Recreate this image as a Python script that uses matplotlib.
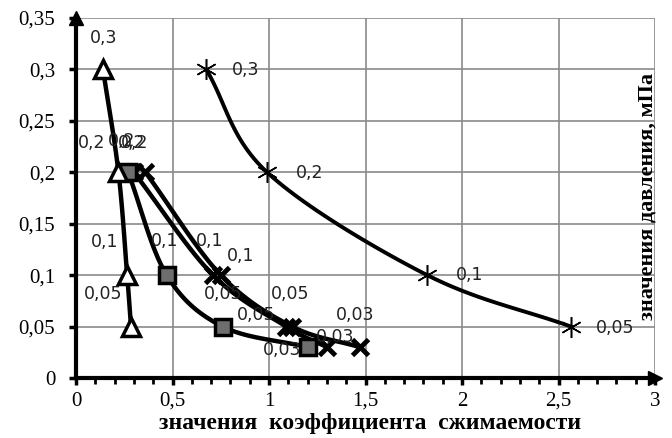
import numpy as np
import matplotlib
matplotlib.use("Agg")
import matplotlib.pyplot as plt

# ---- data ----
pressure = [0.3, 0.2, 0.1, 0.05]
pressure_b = [0.2, 0.1, 0.05, 0.03]

tri_x = [0.14, 0.22, 0.265, 0.285]
tri_y = pressure
tri_lab = ["0,3", "0,2", "0,1", "0,05"]

sq_x = [0.27, 0.47, 0.76, 1.20]
sq_y = pressure_b
sq_lab = ["0,2", "0,1", "0,05", "0,03"]

xc_x = [0.36, 0.75, 1.12, 1.47]
xc_y = pressure_b
xc_lab = ["0,2", "0,1", "0,05", "0,03"]

xd_x = [0.30, 0.71, 1.09, 1.30]
xd_y = pressure_b
xd_lab = ["0,2", "0,1", "0,05", "0,03"]

st_x = [0.675, 0.99, 1.82, 2.565]
st_y = pressure
st_lab = ["0,3", "0,2", "0,1", "0,05"]

xticks = [0, 0.5, 1, 1.5, 2, 2.5, 3]
xticklabels = ["0", "0,5", "1", "1,5", "2", "2,5", "3"]
yticks = [0, 0.05, 0.1, 0.15, 0.2, 0.25, 0.3, 0.35]
yticklabels = ["0", "0,05", "0,1", "0,15", "0,2", "0,25", "0,3", "0,35"]


def smooth(x, y, n=30):
    """Catmull-Rom curve through the given points (for drawing only)."""
    p = np.column_stack([x, y]).astype(float)
    p = np.vstack([2 * p[0] - p[1], p, 2 * p[-1] - p[-2]])
    out = []
    for i in range(1, len(p) - 2):
        p0, p1, p2, p3 = p[i - 1], p[i], p[i + 1], p[i + 2]
        t = np.linspace(0, 1, n)[:, None]
        seg = 0.5 * ((2 * p1) + (-p0 + p2) * t + (2 * p0 - 5 * p1 + 4 * p2 - p3) * t ** 2
                     + (-p0 + 3 * p1 - 3 * p2 + p3) * t ** 3)
        out.append(seg)
    out = np.vstack(out)
    return out[:, 0], out[:, 1]


fig = plt.figure(figsize=(6.72, 4.38), dpi=100)
ax = fig.add_axes([76 / 672, 1 - 378 / 438, (655 - 76) / 672, (378 - 18) / 438])
ax.set_xlim(0, 3)
ax.set_ylim(0, 0.35)

ax.grid(True, color="#8a8a8a", lw=1.2)
ax.set_axisbelow(True)
for s in ["top", "right"]:
    ax.spines[s].set_visible(False)
for s in ["left", "bottom"]:
    ax.spines[s].set_linewidth(3)
    ax.spines[s].set_color("black")

# arrows on axes
ax.plot([1.0], [0], marker=">", ms=10, color="black", transform=ax.transAxes, clip_on=False)
ax.plot([0], [1.0], marker="^", ms=10, color="black", transform=ax.transAxes, clip_on=False)

ax.set_xticks(xticks)
ax.set_xticklabels(xticklabels, fontfamily="Liberation Serif", fontsize=15)
ax.set_yticks(yticks)
ax.set_yticklabels(yticklabels, fontfamily="Liberation Serif", fontsize=15)
ax.set_xticks(np.arange(0, 3.01, 0.1), minor=True)
ax.tick_params(axis="both", which="major", direction="out", length=5, width=2.5, colors="black")
ax.tick_params(axis="y", which="major", pad=10)
ax.tick_params(axis="x", which="major", pad=5)
ax.tick_params(axis="x", which="minor", direction="out", length=4, width=2)

lw = 3.2
# star series
sx, sy = smooth(st_x, st_y)
ax.plot(sx, sy, color="black", lw=2.8, zorder=3)
ax.plot(st_x, st_y, ls="none", marker=(6, 2, 0), ms=15, mew=1.1, color="black", zorder=4)

# X series D and C
for xs, ys in [(xd_x, xd_y), (xc_x, xc_y)]:
    cx, cy = smooth(xs, ys)
    ax.plot(cx, cy, color="black", lw=lw, zorder=3)
    ax.plot(xs, ys, ls="none", marker="x", ms=11, mew=3.5, color="black", zorder=4)

# squares
cx, cy = smooth(sq_x, sq_y)
ax.plot(cx, cy, color="black", lw=lw, zorder=3)
ax.plot(sq_x, sq_y, ls="none", marker="s", ms=12, mew=2.5, mfc="#6e6e6e", mec="black", zorder=5)

# triangles
cx, cy = smooth(tri_x, tri_y)
ax.plot(cx, cy, color="black", lw=lw, zorder=3)
ax.plot(tri_x, tri_y, ls="none", marker="^", ms=13, mew=2.5, mfc="white", mec="black", zorder=5)

# data labels (offsets in pixels, style only)
lab_font = dict(fontfamily="DejaVu Sans", fontsize=12.5, color="#222222", ha="center", va="center", zorder=6)


def labels(xs, ys, labs, offs):
    for x, y, t, (dx, dy) in zip(xs, ys, labs, offs):
        ax.annotate(t, (x, y), xytext=(dx, dy), textcoords="offset pixels", **lab_font)


labels(tri_x, tri_y, tri_lab, [(1, 31), (-27, 29), (-23, 33), (-28, 33)])
labels(sq_x, sq_y, sq_lab, [(-6, 31), (-2, 34), (0, 33), (-25, -3)])
labels(xc_x, xc_y, xc_lab, [(-11, 29), (20, 19), (-2, 33), (-5, 32)])
labels(xd_x, xd_y, xd_lab, [(-2, 29), (-3, 34), (-30, 12), (8, 10)])
labels(st_x, st_y, st_lab, [(39, -1), (43, -1), (42, 0), (44, -1)])

fig.text(370 / 672, 1 - 424 / 438, "значения  коэффициента  сжимаемости",
         fontfamily="Liberation Serif", fontweight="bold", fontsize=17, ha="center", va="center")
fig.text(647 / 672, 1 - 196 / 438, "значения давления, мПа",
         fontfamily="Liberation Serif", fontweight="bold", fontsize=16, rotation=90,
         ha="center", va="center")

fig.savefig("out.png", dpi=100)
